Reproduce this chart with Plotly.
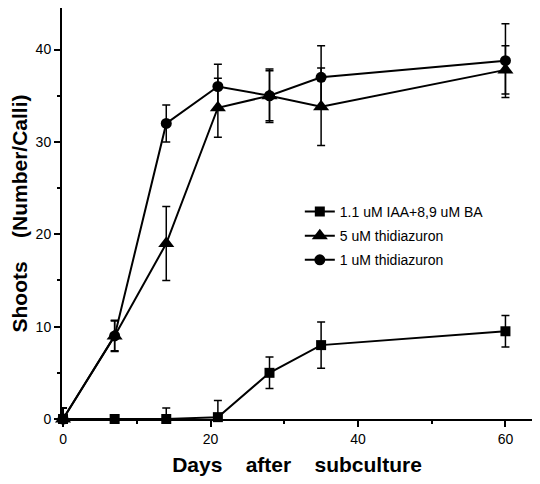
import plotly.graph_objects as go

days = [0, 7, 14, 21, 28, 35, 60]

names = ["1.1 uM IAA+8,9 uM BA", "5 uM thidiazuron", "1 uM thidiazuron"]
iaa_ba = [0, 0, 0, 0.2, 5, 8, 9.5]
iaa_ba_err = [1.2, 0, 1.2, 1.8, 1.7, 2.5, 1.7]
tdz5 = [0, 9, 19, 33.7, 35, 33.8, 37.8]
tdz5_err = [1.2, 1.7, 4, 3.2, 2.9, 4.2, 2.6]
tdz1 = [0, 9, 32, 36, 35, 37, 38.8]
tdz1_err = [1.2, 1.6, 2.0, 2.4, 2.7, 3.4, 4.0]

symbols = ["square", "triangle-up", "circle"]
sizes = [10, 14, 11]
series = [iaa_ba, tdz5, tdz1]
errors = [iaa_ba_err, tdz5_err, tdz1_err]

fig = go.Figure()
for nm, ys, er, sym, sz in zip(names, series, errors, symbols, sizes):
    fig.add_trace(go.Scatter(
        x=days, y=ys, name=nm, mode="lines+markers",
        line=dict(color="black", width=2),
        marker=dict(symbol=sym, size=sz, color="black"),
        error_y=dict(type="data", array=er, color="black", thickness=1.5, width=4),
        cliponaxis=False, legendgroup=nm,
    ))

fig.update_layout(
    width=524, height=468,
    margin=dict(l=54, r=0, t=0, b=57),
    paper_bgcolor="white", plot_bgcolor="white",
    font=dict(family="Liberation Sans, Arial", color="black"),
    showlegend=True,
    legend=dict(x=0.506, y=0.543, xanchor="left", yanchor="top",
                font=dict(size=14, color="black"), bgcolor="rgba(0,0,0,0)",
                tracegroupgap=3),
    xaxis=dict(range=[-0.14, 63.6], tickvals=[0, 20, 40, 60], automargin=False,
               showline=True, linecolor="black", linewidth=2, mirror=True,
               ticks="outside", ticklen=6, tickwidth=1.5, tickcolor="black",
               minor=dict(ticks="outside", ticklen=3, dtick=10, tickcolor="black"),
               showgrid=False, zeroline=False,
               tickfont=dict(size=14),
               title=dict(text="<b>Days    after    subculture</b>", font=dict(size=21), standoff=14)),
    yaxis=dict(range=[0, 44.5], tickvals=[0, 10, 20, 30, 40], automargin=False,
               showline=True, linecolor="black", linewidth=2,
               ticks="outside", ticklen=6, tickwidth=1.5, tickcolor="black",
               minor=dict(ticks="outside", ticklen=3, dtick=5, tickcolor="black"),
               showgrid=False, zeroline=False,
               tickfont=dict(size=14),
               title=dict(text="<b>Shoots    (Number/Calli)</b>", font=dict(size=21), standoff=15)),
)

fig.write_html("out.html")
